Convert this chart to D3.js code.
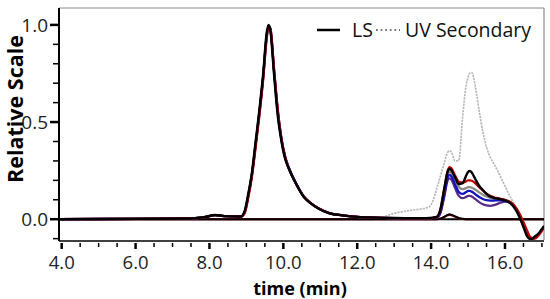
<!DOCTYPE html>
<html><head><meta charset="utf-8">
<script src="https://cdn.jsdelivr.net/npm/d3@7"></script>
<style>
html,body{margin:0;padding:0;background:#fff;}
svg{display:block;}
text{font-family:"Open Sans","Noto Sans",sans-serif;}
</style></head>
<body><svg id="c" width="550" height="299"></svg>
<script>
const time = [3.93,6.0,7.5,7.9,8.15,8.4,8.85,8.95,9.05,9.15,9.25,9.35,9.45,9.55,9.6,9.65,9.75,9.85,9.95,10.05,10.15,10.35,10.55,10.75,10.95,11.25,11.6,12.0,12.5,13.0,13.5,13.8,13.95,14.05,14.15,14.25,14.35,14.45,14.5,14.55,14.65,14.75,14.85,14.95,15.0,15.05,15.1,15.2,15.3,15.4,15.5,15.6,15.7,15.8,15.9,16.0,16.1,16.2,16.3,16.4,16.5,16.6,16.7,16.8,16.9,17.0,17.06];

const lsBlack = [0,0.002,0.004,0.012,0.022,0.016,0.014,0.04,0.13,0.24,0.40,0.56,0.74,0.96,1.0,0.97,0.74,0.53,0.40,0.31,0.26,0.18,0.115,0.08,0.055,0.03,0.02,0.012,0.008,0.006,0.005,0.005,0.006,0.008,0.012,0.05,0.15,0.245,0.26,0.252,0.215,0.18,0.185,0.225,0.243,0.248,0.24,0.205,0.172,0.15,0.13,0.116,0.11,0.106,0.102,0.097,0.088,0.072,0.045,0.008,-0.04,-0.088,-0.103,-0.09,-0.075,-0.05,-0.035];
const lsRed = [0,0.002,0.004,0.012,0.021,0.016,0.014,0.03,0.11,0.22,0.37,0.53,0.71,0.93,0.99,0.98,0.77,0.56,0.41,0.32,0.26,0.18,0.117,0.082,0.056,0.031,0.02,0.012,0.008,0.006,0.005,0.005,0.005,0.007,0.01,0.045,0.15,0.25,0.268,0.262,0.225,0.192,0.188,0.195,0.2,0.2,0.198,0.185,0.165,0.148,0.132,0.12,0.113,0.108,0.104,0.1,0.093,0.08,0.058,0.025,-0.015,-0.06,-0.095,-0.1,-0.085,-0.06,-0.04];
const lsGray = [0,0.002,0.004,0.012,0.021,0.016,0.014,0.035,0.12,0.23,0.385,0.545,0.725,0.945,0.995,0.975,0.755,0.545,0.405,0.315,0.26,0.18,0.116,0.081,0.055,0.03,0.02,0.012,0.008,0.006,0.005,0.005,0.005,0.007,0.01,0.04,0.13,0.228,0.245,0.238,0.2,0.165,0.155,0.16,0.165,0.165,0.162,0.152,0.138,0.126,0.117,0.11,0.106,0.103,0.1,0.096,0.09,0.078,0.055,0.02,-0.025,-0.072,-0.1,-0.097,-0.08,-0.055,-0.038];
const lsBlue = [0,0.002,0.004,0.012,0.021,0.016,0.014,0.035,0.12,0.23,0.385,0.545,0.725,0.945,0.995,0.98,0.765,0.56,0.415,0.322,0.265,0.183,0.118,0.082,0.056,0.031,0.02,0.012,0.008,0.006,0.005,0.005,0.005,0.006,0.008,0.035,0.12,0.215,0.228,0.22,0.178,0.14,0.13,0.14,0.146,0.146,0.142,0.128,0.114,0.104,0.098,0.096,0.096,0.097,0.097,0.095,0.089,0.077,0.054,0.02,-0.025,-0.072,-0.1,-0.097,-0.08,-0.055,-0.038];
const lsPurple = [0,0.002,0.004,0.012,0.021,0.016,0.014,0.035,0.12,0.23,0.385,0.545,0.725,0.945,0.995,0.975,0.76,0.55,0.41,0.318,0.262,0.181,0.117,0.081,0.055,0.03,0.02,0.012,0.008,0.006,0.005,0.005,0.005,0.006,0.007,0.03,0.11,0.2,0.21,0.203,0.16,0.12,0.108,0.115,0.12,0.12,0.117,0.103,0.088,0.077,0.071,0.069,0.072,0.079,0.086,0.09,0.088,0.077,0.054,0.02,-0.025,-0.072,-0.1,-0.097,-0.08,-0.055,-0.038];
const blankBlack = [0,0,0,0,0,0,0,0,0,0,0,0,0,0,0,0,0,0,0,0,0,0,0,0,0,0,0,0,0,0,0,0,0,0,0,0.003,0.012,0.022,0.025,0.023,0.015,0.006,0.002,0,0,0,0,0,0,0,0,0,0,0,0,0,0,0,0,0,0,0,0,0,0,0,0];
const blankRed = [0,0,0,0,0,0,0,0,0,0,0,0,0,0,0,0,0,0,0,0,0,0,0,0,0,0,0,0,0,0,0,0,0,0,0,0.002,0.01,0.02,0.022,0.02,0.012,0.004,0.001,0,0,0,0,0,0,0,0,0,0,0,0,0,0,0,0,0,0,0,0,0,0,0,0];
const uvSecondary = [0,0,0,0,0,0,0,0,0,0,0,0,0,0,0,0,0,0,0,0,0,0,0,0,0,0,0,0,0.002,0.03,0.047,0.055,0.063,0.095,0.155,0.22,0.285,0.345,0.352,0.345,0.3,0.302,0.52,0.69,0.73,0.752,0.755,0.68,0.56,0.45,0.37,0.32,0.285,0.25,0.21,0.17,0.13,0.095,0.058,0.02,-0.02,-0.065,-0.09,-0.09,-0.075,-0.05,-0.035];

const xMajorTicks = [4,6,8,10,12,14,16];
const xMinorTicks = [4.5,5,5.5,6.5,7,7.5,8.5,9,9.5,10.5,11,11.5,12.5,13,13.5,14.5,15,15.5,16.5,17];
const yMajorTicks = [0,0.5,1.0];
const yMinorTicks = [-0.1,0.1,0.2,0.3,0.4,0.6,0.7,0.8,0.9];
const legendLabels = ["LS","UV Secondary"];
const xTitle = "time (min)";
const yTitle = "Relative Scale";

const svg = d3.select("#c");
const L = 59, R = 544, T = 8, B = 240;
const x = d3.scaleLinear().domain([3.927, 17.056]).range([L, R]);
const y = d3.scaleLinear().domain([-0.107, 1.087]).range([B, T]);

svg.append("defs").append("clipPath").attr("id","clip")
  .append("rect").attr("x",L).attr("y",T).attr("width",R-L).attr("height",B-T);

svg.append("line").attr("x1",L).attr("x2",R).attr("y1",T).attr("y2",T).attr("stroke","#8a8a8a").attr("stroke-width",1.2);
svg.append("line").attr("x1",R).attr("x2",R).attr("y1",T).attr("y2",B).attr("stroke","#8a8a8a").attr("stroke-width",1.2);

const g = svg.append("g").attr("clip-path","url(#clip)");
g.append("line").attr("x1",L).attr("x2",R).attr("y1",y(0)).attr("y2",y(0)).attr("stroke","#000").attr("stroke-width",2);

const line = d3.line().x((d,i)=>x(time[i])).y(d=>y(d)).curve(d3.curveMonotoneX);

g.append("path").datum(uvSecondary).attr("d",line).attr("fill","none")
  .attr("stroke","#b8b8b8").attr("stroke-width",1.7).attr("stroke-dasharray","2.2,1");

const series = [
  {v: blankRed, c:"#c00000", w:2},
  {v: blankBlack, c:"#000000", w:2},
  {v: lsGray, c:"#8c8c8c", w:2.3},
  {v: lsPurple, c:"#5a2a8a", w:2.3},
  {v: lsBlue, c:"#1414c0", w:2.3},
  {v: lsRed, c:"#c00000", w:2.3},
  {v: lsBlack, c:"#000000", w:2.4},
];
series.forEach(s=>{
  g.append("path").datum(s.v).attr("d",line).attr("fill","none")
    .attr("stroke",s.c).attr("stroke-width",s.w).attr("stroke-linejoin","round");
});

const yAx = svg.append("g").attr("transform",`translate(${L},0)`);
yAx.append("line").attr("x1",0).attr("x2",0).attr("y1",T).attr("y2",B+1).attr("stroke","#000").attr("stroke-width",2);
yAx.selectAll(".ymin").data(yMinorTicks).join("line")
  .attr("x1",-6).attr("x2",0).attr("y1",d=>y(d)).attr("y2",d=>y(d)).attr("stroke","#000").attr("stroke-width",1.5);
yAx.selectAll(".ymaj").data(yMajorTicks).join("line")
  .attr("x1",-9).attr("x2",0).attr("y1",d=>y(d)).attr("y2",d=>y(d)).attr("stroke","#000").attr("stroke-width",2.5);
yAx.selectAll(".ylab").data(yMajorTicks).join("text")
  .attr("x",-11).attr("y",d=>y(d)).attr("dy","0.36em").attr("text-anchor","end")
  .attr("font-size",19).attr("fill","#222").text(d=>d.toFixed(1));

const xAx = svg.append("g").attr("transform",`translate(0,${B+1})`);
xAx.append("line").attr("x1",L).attr("x2",R).attr("y1",0).attr("y2",0).attr("stroke","#000").attr("stroke-width",1.5);
xAx.selectAll(".xmin").data(xMinorTicks).join("line")
  .attr("x1",d=>x(d)).attr("x2",d=>x(d)).attr("y1",2).attr("y2",6).attr("stroke","#000").attr("stroke-width",1.5);
xAx.selectAll(".xmaj").data(xMajorTicks).join("line")
  .attr("x1",d=>x(d)).attr("x2",d=>x(d)).attr("y1",2).attr("y2",8).attr("stroke","#000").attr("stroke-width",2.5);
xAx.selectAll(".xlab").data(xMajorTicks).join("text")
  .attr("x",d=>x(d)).attr("y",28).attr("text-anchor","middle")
  .attr("font-size",18.5).attr("fill","#222").text(d=>d.toFixed(1));

svg.append("text").attr("x",300).attr("y",294.5).attr("text-anchor","middle")
  .attr("font-size",18).attr("font-weight","bold").attr("fill","#000").text(xTitle);
svg.append("text").attr("transform","translate(23,109) rotate(-90)").attr("text-anchor","middle")
  .attr("font-size",21.5).attr("font-weight","bold").attr("fill","#000").text(yTitle);

const lg = svg.append("g");
lg.append("line").attr("x1",317).attr("x2",340).attr("y1",30).attr("y2",30).attr("stroke","#000").attr("stroke-width",2.5);
lg.append("text").attr("x",352).attr("y",37).attr("font-size",19.5).attr("fill","#111").text(legendLabels[0]);
lg.append("line").attr("x1",376).attr("x2",400).attr("y1",30).attr("y2",30).attr("stroke","#777").attr("stroke-width",1.8).attr("stroke-dasharray","1.8,2.8");
lg.append("text").attr("x",405).attr("y",37).attr("font-size",19.5).attr("fill","#111").text(legendLabels[1]);
</script></body></html>
